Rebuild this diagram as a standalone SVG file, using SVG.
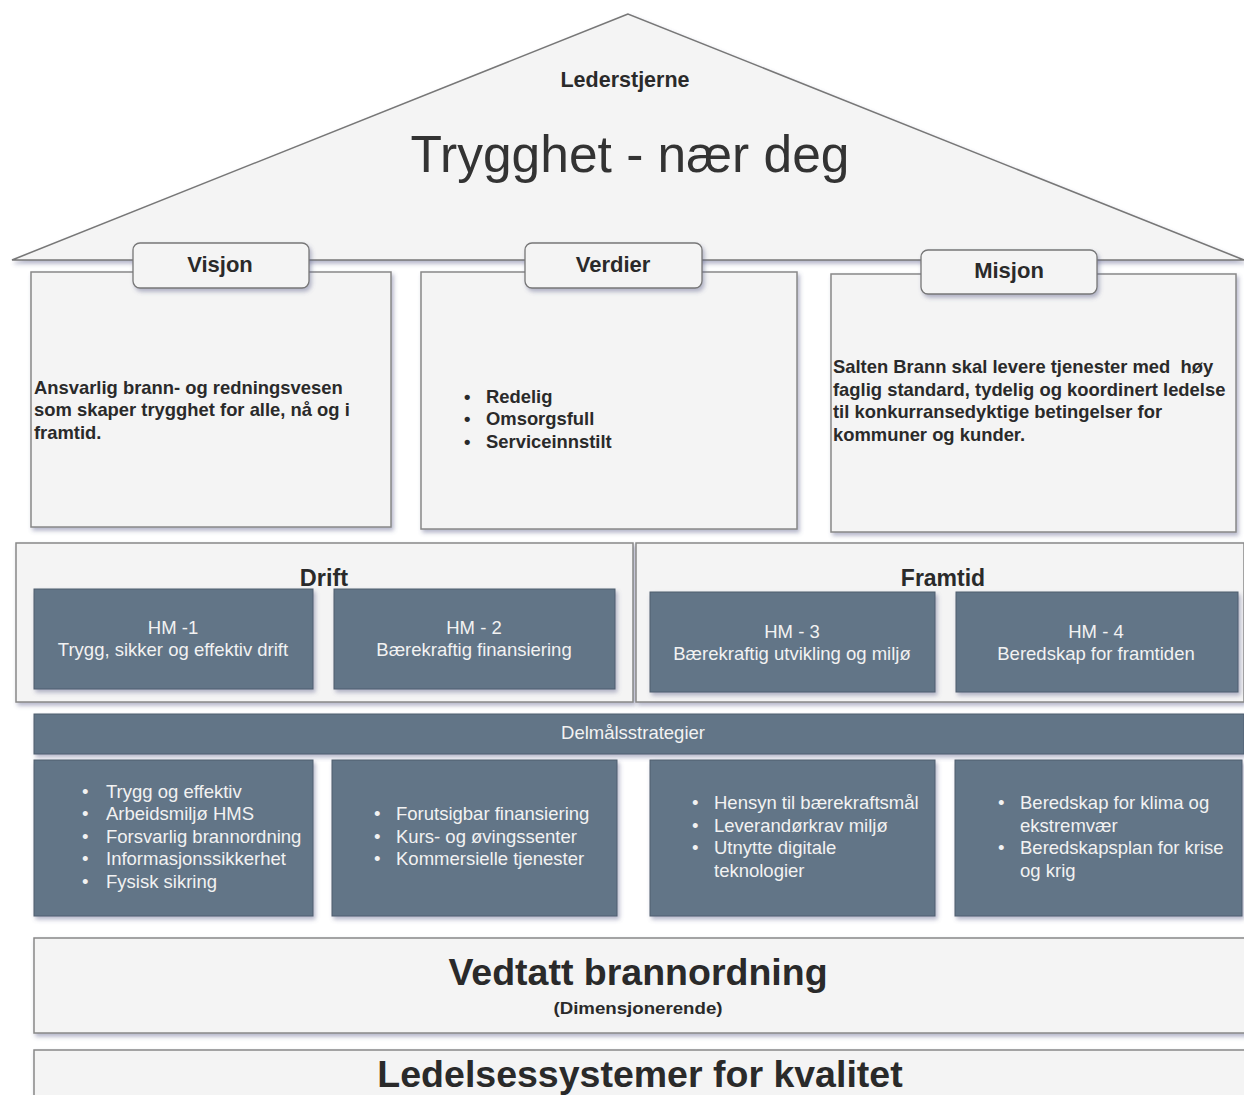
<svg xmlns="http://www.w3.org/2000/svg" width="1244" height="1095" viewBox="0 0 1244 1095">
<defs>
<filter id="sh" x="-5%" y="-5%" width="115%" height="125%">
<feDropShadow dx="2" dy="3" stdDeviation="2" flood-color="#5a5f8a" flood-opacity="0.45"/>
</filter>
<style>
.light{fill:#f4f4f4;stroke:#888;stroke-width:1.5;filter:url(#sh)}
.dark{fill:#627587;stroke:#4e5e6e;stroke-width:1;filter:url(#sh)}
.tab{fill:#f4f4f4;stroke:#777;stroke-width:1.3;filter:url(#sh)}
text{font-family:"Liberation Sans",Arial,Helvetica,sans-serif}
.b{font-weight:bold;fill:#2a2a2a}
.w{fill:#f2f2f2;font-size:18.5px}
.c{text-anchor:middle}
.body{font-size:18.4px}
</style>
</defs>
<rect width="1244" height="1095" fill="#ffffff"/>

<g id="roof">
<polygon points="628,14 12,260 1244,260" fill="#f4f4f4" stroke="#777" stroke-width="1.5" filter="url(#sh)"/>
<text x="625" y="87" class="b c" font-size="21.5">Lederstjerne</text>
<text x="630" y="172" class="c" font-size="51.5" fill="#333">Trygghet - nær deg</text>
</g>

<g id="visjon">
<rect x="31" y="272" width="360" height="255" class="light"/>
<rect x="133" y="243" width="176" height="45" rx="7" class="tab"/>
<text x="220" y="272" class="b c" font-size="22">Visjon</text>
<text class="b body"><tspan x="34" y="394">Ansvarlig brann- og redningsvesen</tspan><tspan x="34" y="416">som skaper trygghet for alle, nå og i</tspan><tspan x="34" y="439">framtid.</tspan></text>
</g>

<g id="verdier">
<rect x="421" y="272" width="376" height="257" class="light"/>
<rect x="525" y="243" width="177" height="45" rx="7" class="tab"/>
<text x="613" y="272" class="b c" font-size="22">Verdier</text>
<text class="b body"><tspan x="464" y="403">•</tspan><tspan x="486" y="403">Redelig</tspan><tspan x="464" y="425">•</tspan><tspan x="486" y="425">Omsorgsfull</tspan><tspan x="464" y="448">•</tspan><tspan x="486" y="448">Serviceinnstilt</tspan></text>
</g>

<g id="misjon">
<rect x="831" y="274" width="405" height="258" class="light"/>
<rect x="921" y="250" width="176" height="44" rx="7" class="tab"/>
<text x="1009" y="278" class="b c" font-size="22">Misjon</text>
<text class="b body" xml:space="preserve"><tspan x="833" y="373">Salten Brann skal levere tjenester med  høy</tspan><tspan x="833" y="396">faglig standard, tydelig og koordinert ledelse</tspan><tspan x="833" y="418">til konkurransedyktige betingelser for</tspan><tspan x="833" y="441">kommuner og kunder.</tspan></text>
</g>

<g id="drift">
<rect x="16" y="543" width="617" height="159" class="light"/>
<text x="324" y="586" class="b c" font-size="23.5">Drift</text>
</g>
<g id="framtid">
<rect x="636" y="543" width="608" height="159" class="light"/>
<text x="943" y="586" class="b c" font-size="23">Framtid</text>
</g>

<g id="hm1">
<rect x="34" y="589" width="279" height="100" class="dark"/>
<text class="w c"><tspan x="173" y="634">HM -1</tspan><tspan x="173" y="656">Trygg, sikker og effektiv drift</tspan></text>
</g>
<g id="hm2">
<rect x="334" y="589" width="281" height="100" class="dark"/>
<text class="w c"><tspan x="474" y="634">HM - 2</tspan><tspan x="474" y="656">Bærekraftig finansiering</tspan></text>
</g>
<g id="hm3">
<rect x="650" y="592" width="285" height="100" class="dark"/>
<text class="w c"><tspan x="792" y="638">HM - 3</tspan><tspan x="792" y="660">Bærekraftig utvikling og miljø</tspan></text>
</g>
<g id="hm4">
<rect x="956" y="592" width="282" height="100" class="dark"/>
<text class="w c"><tspan x="1096" y="638">HM - 4</tspan><tspan x="1096" y="660">Beredskap for framtiden</tspan></text>
</g>

<g id="delmal">
<rect x="34" y="714" width="1210" height="40" class="dark"/>
<text x="633" y="739" class="w c" font-size="17.5">Delmålsstrategier</text>
</g>

<g id="strat1">
<rect x="34" y="760" width="279" height="156" class="dark"/>
<text class="w"><tspan x="82" y="798">•</tspan><tspan x="106" y="798">Trygg og effektiv</tspan><tspan x="82" y="820">•</tspan><tspan x="106" y="820">Arbeidsmiljø HMS</tspan><tspan x="82" y="843">•</tspan><tspan x="106" y="843">Forsvarlig brannordning</tspan><tspan x="82" y="865">•</tspan><tspan x="106" y="865">Informasjonssikkerhet</tspan><tspan x="82" y="888">•</tspan><tspan x="106" y="888">Fysisk sikring</tspan></text>
</g>
<g id="strat2">
<rect x="332" y="760" width="285" height="156" class="dark"/>
<text class="w"><tspan x="374" y="820">•</tspan><tspan x="396" y="820">Forutsigbar finansiering</tspan><tspan x="374" y="843">•</tspan><tspan x="396" y="843">Kurs- og øvingssenter</tspan><tspan x="374" y="865">•</tspan><tspan x="396" y="865">Kommersielle tjenester</tspan></text>
</g>
<g id="strat3">
<rect x="650" y="760" width="285" height="156" class="dark"/>
<text class="w"><tspan x="692" y="809">•</tspan><tspan x="714" y="809">Hensyn til bærekraftsmål</tspan><tspan x="692" y="832">•</tspan><tspan x="714" y="832">Leverandørkrav miljø</tspan><tspan x="692" y="854">•</tspan><tspan x="714" y="854">Utnytte digitale</tspan><tspan x="714" y="877">teknologier</tspan></text>
</g>
<g id="strat4">
<rect x="955" y="760" width="287" height="156" class="dark"/>
<text class="w"><tspan x="998" y="809">•</tspan><tspan x="1020" y="809">Beredskap for klima og</tspan><tspan x="1020" y="832">ekstremvær</tspan><tspan x="998" y="854">•</tspan><tspan x="1020" y="854">Beredskapsplan for krise</tspan><tspan x="1020" y="877">og krig</tspan></text>
</g>

<g id="brannordning">
<rect x="34" y="938" width="1212" height="95" class="light"/>
<text x="638" y="985" class="b c" font-size="37.5">Vedtatt brannordning</text>
<text x="638" y="1014" class="b c" font-size="16.5" textLength="169" lengthAdjust="spacingAndGlyphs">(Dimensjonerende)</text>
</g>
<g id="ledelse">
<rect x="34" y="1050" width="1212" height="60" class="light"/>
<text x="640" y="1087" class="b c" font-size="37.5">Ledelsessystemer for kvalitet</text>
</g>
</svg>
